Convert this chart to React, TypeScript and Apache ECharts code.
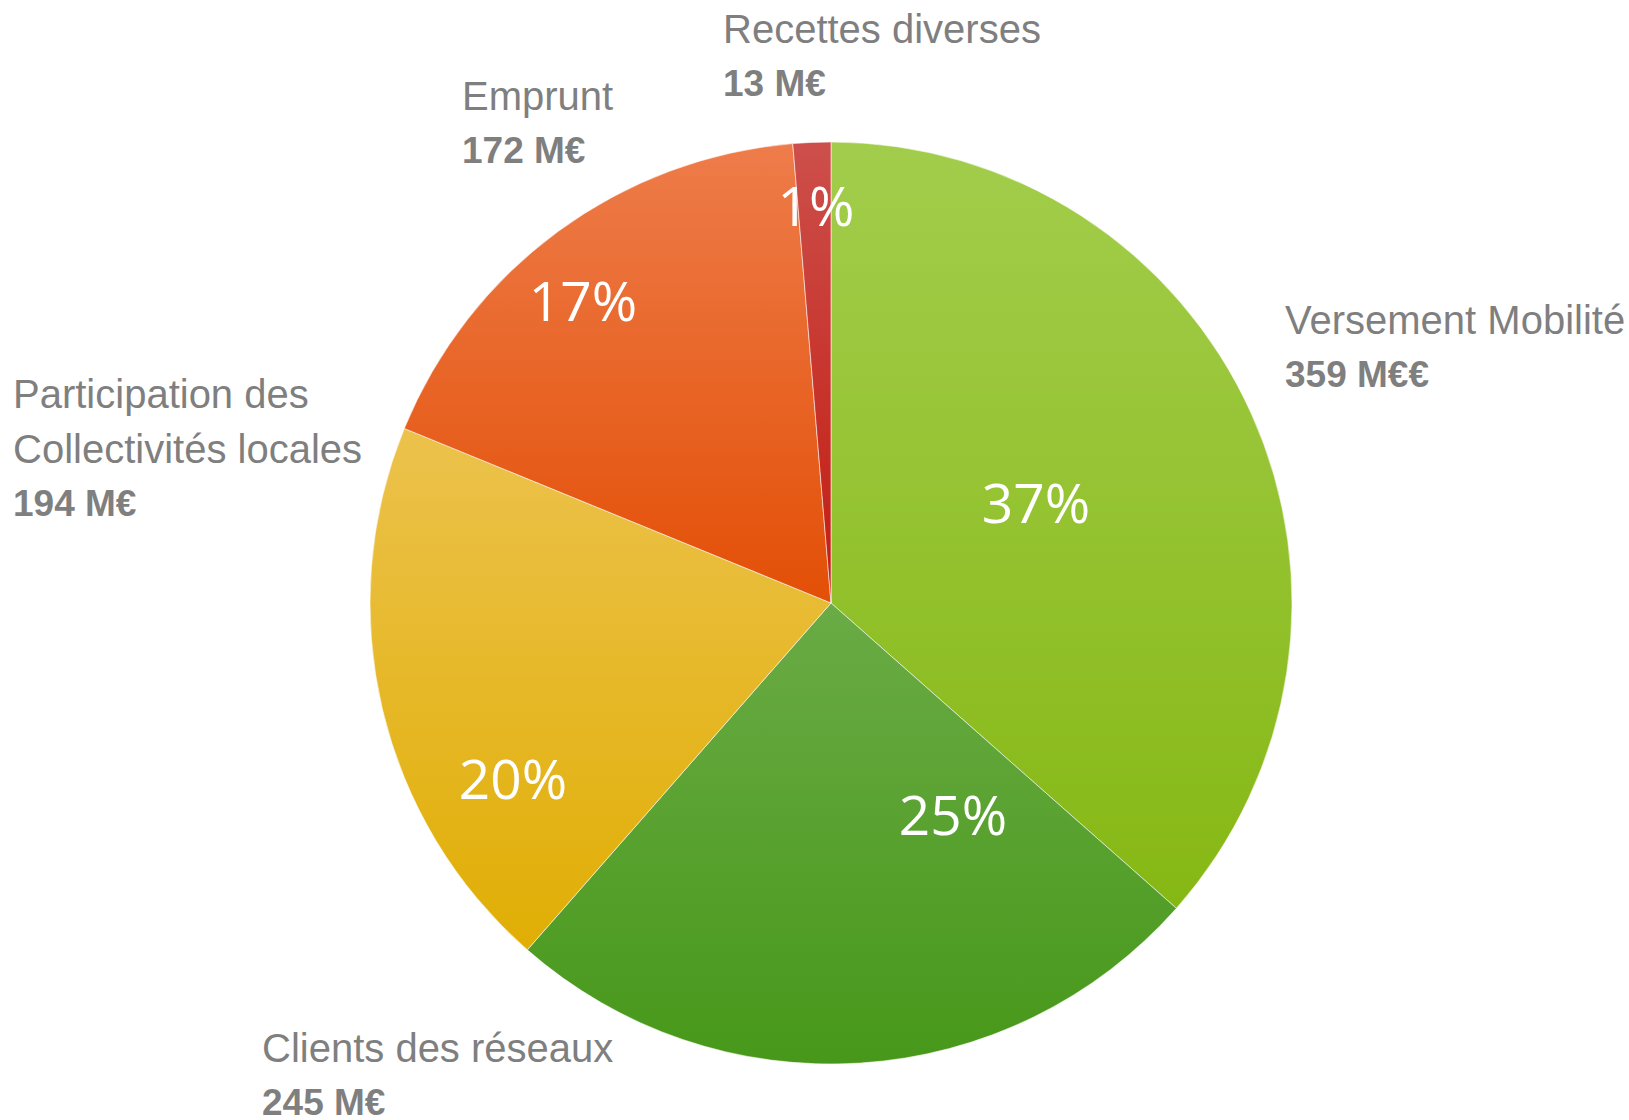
import React, { useEffect, useRef } from "react";
import * as echarts from "echarts";

const categories = [
  "Versement Mobilité",
  "Clients des réseaux",
  "Participation des\nCollectivités locales",
  "Emprunt",
  "Recettes diverses",
];
const values = [359, 245, 194, 172, 13];
const valueLabels = ["359 M€€", "245 M€", "194 M€", "172 M€", "13 M€"];
const percentLabels = ["37%", "25%", "20%", "17%", "1%"];

const topColors = ["#a2cd4c", "#6aab45", "#ecc24c", "#ee7c4a", "#cd4f4b"];
const bottomColors = ["#86b814", "#47981a", "#e0ae04", "#e34f06", "#c21c10"];

// label anchor positions (px)
const percentPos = [
  [1036, 501],
  [953, 813],
  [513, 777],
  [583, 299],
  [816, 204],
];
const outerPos = [
  [1285, 292],
  [262, 1020],
  [13, 366],
  [462, 68],
  [723, 1],
];

export default function App() {
  const ref = useRef<HTMLDivElement>(null);
  useEffect(() => {
    document.body.style.margin = "0";
    const chart = echarts.init(ref.current!, null, { renderer: "svg" });
    const data = categories.map((name, i) => ({
      name,
      value: values[i],
      itemStyle: {
        color: new echarts.graphic.LinearGradient(0, 0, 0, 1, [
          { offset: 0, color: topColors[i] },
          { offset: 1, color: bottomColors[i] },
        ]),
      },
    }));
    chart.setOption({
      animation: false,
      backgroundColor: "#ffffff",
      series: [
        {
          type: "pie",
          center: [831, 603],
          radius: [0, 461],
          startAngle: 90,
          clockwise: true,
          avoidLabelOverlap: false,
          itemStyle: { borderColor: "rgba(255,255,255,0.55)", borderWidth: 1 },
          data,
          label: {
            show: true,
            position: "inside",
            formatter: (p: any) => percentLabels[p.dataIndex],
            color: "#ffffff",
            fontFamily: "Open Sans",
            fontSize: 55,
          },
          labelLine: { show: false },
          labelLayout: (p: any) => ({
            x: percentPos[p.dataIndex][0],
            y: percentPos[p.dataIndex][1],
            align: "center",
            verticalAlign: "middle",
          }),
          emphasis: { disabled: true },
        },
        {
          type: "pie",
          center: [831, 603],
          radius: [0, 461],
          startAngle: 90,
          clockwise: true,
          silent: true,
          avoidLabelOverlap: false,
          itemStyle: { color: "transparent", borderWidth: 0 },
          data: categories.map((name, i) => ({ name, value: values[i] })),
          label: {
            show: true,
            position: "outside",
            formatter: (p: any) =>
              p.name
                .split("\n")
                .map((s: string) => `{n|${s}}`)
                .join("\n") + `\n{v|${valueLabels[p.dataIndex]}}`,
            rich: {
              n: {
                fontFamily: "Liberation Sans",
                fontSize: 40,
                color: "#7f7f7f",
                lineHeight: 55,
              },
              v: {
                fontFamily: "Liberation Sans",
                fontSize: 37,
                fontWeight: "bold",
                color: "#7f7f7f",
                lineHeight: 55,
              },
            },
          },
          labelLine: { show: false },
          labelLayout: (p: any) => ({
            x: outerPos[p.dataIndex][0],
            y: outerPos[p.dataIndex][1],
            align: "left",
            verticalAlign: "top",
          }),
          emphasis: { disabled: true },
        },
      ],
    });
    return () => chart.dispose();
  }, []);
  return <div ref={ref} style={{ width: 1629, height: 1120 }} />;
}
